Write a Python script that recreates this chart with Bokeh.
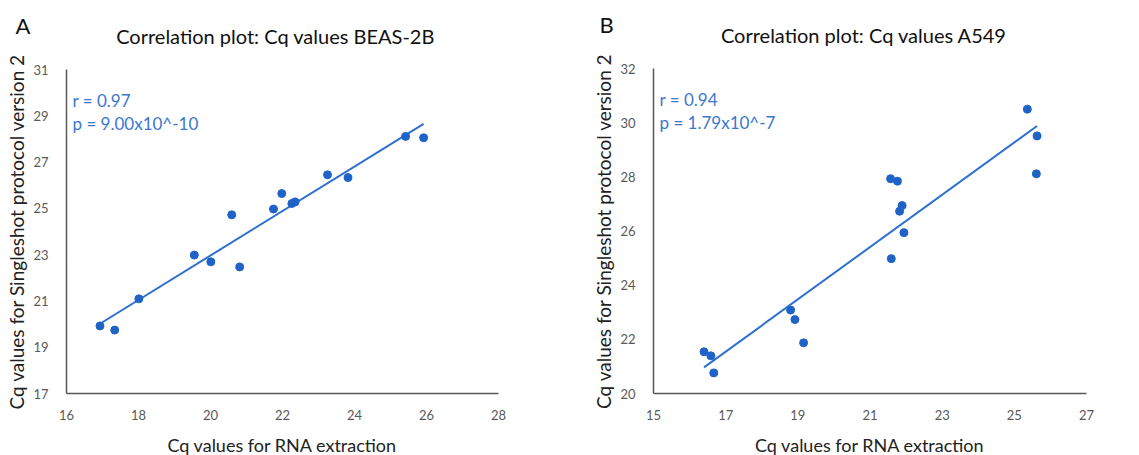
import numpy as np
from bokeh.plotting import figure
from bokeh.layouts import row
from bokeh.models import Range1d, FixedTicker, Label
from bokeh.embed import file_html
from bokeh.resources import INLINE

# Panel A: BEAS-2B
beas_rna = [16.93, 17.34, 18.01, 19.55, 20.01, 20.59, 20.81, 21.75, 21.98, 22.26, 22.35, 23.25, 23.82, 25.42, 25.92]
beas_ss = [19.92, 19.74, 21.09, 22.98, 22.69, 24.72, 22.47, 24.97, 25.64, 25.21, 25.28, 26.45, 26.33, 28.11, 28.05]
beas_xticks = [16, 18, 20, 22, 24, 26, 28]
beas_yticks = [17, 19, 21, 23, 25, 27, 29, 31]

# Panel B: A549
a549_rna = [16.40, 16.59, 16.67, 18.80, 18.92, 19.16, 21.57, 21.76, 21.89, 21.82, 21.94, 21.59, 25.36, 25.63, 25.61]
a549_ss = [21.54, 21.39, 20.76, 23.08, 22.73, 21.87, 27.93, 27.84, 26.94, 26.73, 25.94, 24.98, 30.50, 29.51, 28.11]
a549_xticks = [15, 17, 19, 21, 23, 25, 27]
a549_yticks = [20, 22, 24, 26, 28, 30, 32]

FONT = "Lato"
BLUE = "#1f63c9"
LINEBLUE = "#2e6fd0"
TXTBLUE = "#3a78d0"
GRAY = "#595959"
H = 455


def panel(letter, title, xs, ys, xt, yt, r_txt, p_txt, width, ml, mr, mt, mb,
          letter_off, title_off, ylab_standoff):
    # plot area occupies [ml, width-mr] x [mt, H-mb] pixels; the canvas itself is all frame
    fw = width - ml - mr
    fh = H - mt - mb
    ux = (xt[-1] - xt[0]) / fw
    uy = (yt[-1] - yt[0]) / fh
    p = figure(width=width, height=H, output_backend="svg", toolbar_location=None,
               x_range=Range1d(xt[0] - ml * ux, xt[-1] + mr * ux),
               y_range=Range1d(yt[0] - mb * uy, yt[-1] + mt * uy),
               min_border=0)
    p.outline_line_color = None
    p.grid.visible = False
    for ax, ticks in ((p.xaxis[0], xt), (p.yaxis[0], yt)):
        ax.ticker = FixedTicker(ticks=ticks)
        ax.bounds = (ticks[0], ticks[-1])
        ax.axis_line_color = GRAY
        ax.axis_line_width = 1.5
        ax.major_tick_line_color = None
        ax.minor_tick_line_color = None
        ax.major_label_text_font = FONT
        ax.major_label_text_font_size = "13px"
        ax.major_label_text_color = GRAY
        ax.axis_label_text_font = FONT
        ax.axis_label_text_font_style = "normal"
        ax.axis_label_text_color = "#222222"
    p.xaxis.axis_label_text_font_size = "18px"
    p.yaxis.axis_label_text_font_size = "19px"
    p.xaxis.fixed_location = yt[0]
    p.yaxis.fixed_location = xt[0]
    p.xaxis.axis_label = "Cq values for RNA extraction"
    p.yaxis.axis_label = "Cq values for Singleshot protocol version 2"
    p.xaxis.major_label_standoff = 10
    p.yaxis.major_label_standoff = 12
    p.xaxis.axis_label_standoff = 11
    p.yaxis.axis_label_standoff = ylab_standoff

    # least-squares trend line over the data span
    k, b = np.polyfit(xs, ys, 1)
    lx = np.array([min(xs), max(xs)])
    p.line(lx, k * lx + b, line_color=LINEBLUE, line_width=2)
    p.scatter(xs, ys, size=8, fill_color=BLUE, line_color=BLUE)

    p.add_layout(Label(x=xt[0], y=yt[-1], x_offset=6, y_offset=-31, text=r_txt,
                       text_font=FONT, text_font_size="17px", text_color=TXTBLUE,
                       text_baseline="middle"))
    p.add_layout(Label(x=xt[0], y=yt[-1], x_offset=6, y_offset=-54, text=p_txt,
                       text_font=FONT, text_font_size="17px", text_color=TXTBLUE,
                       text_baseline="middle"))
    # chart title
    p.add_layout(Label(x=(xt[0] + xt[-1]) / 2, y=yt[-1], x_offset=title_off, y_offset=34,
                       text=title, text_font=FONT, text_font_size="20px",
                       text_color="#111111", text_align="center", text_baseline="middle"))
    # panel letter
    p.add_layout(Label(x=xt[0], y=yt[-1], x_offset=letter_off, y_offset=44,
                       text=letter, text_font=FONT, text_font_size="22px",
                       text_color="#111111", text_align="left", text_baseline="middle"))
    return p


pa = panel("A", "Correlation plot: Cq values BEAS-2B", beas_rna, beas_ss, beas_xticks, beas_yticks,
           "r = 0.97", "p = 9.00x10^-10", 570, 66, 72, 69, 62, -51, -7, 2)
pb = panel("B", "Correlation plot: Cq values A549", a549_rna, a549_ss, a549_xticks, a549_yticks,
           "r = 0.94", "p = 1.79x10^-7", 569, 83, 53, 68, 62, -54, -6, 2)

layout = row(pa, pb)
open("out.html", "w").write(file_html(layout, INLINE))
